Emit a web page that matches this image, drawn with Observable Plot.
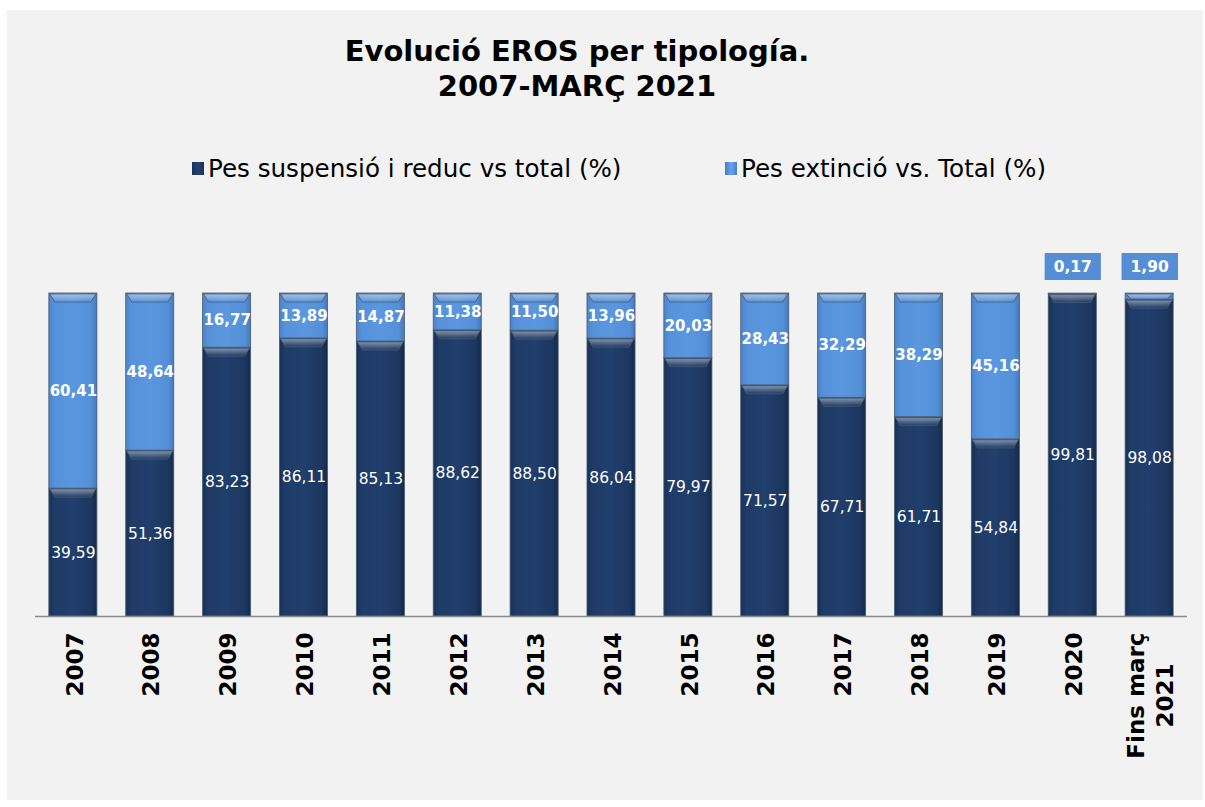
<!DOCTYPE html>
<html><head><meta charset="utf-8">
<script src="https://cdn.jsdelivr.net/npm/d3@7"></script>
<script src="https://cdn.jsdelivr.net/npm/@observablehq/plot@0.6"></script>
<style>
body{margin:0;background:#fff;font-family:"DejaVu Sans",Verdana,sans-serif;}
#wrap{position:relative;width:1205px;height:807px;overflow:hidden;}
#panel{position:absolute;left:7px;top:10px;width:1196px;height:790px;background:#f2f2f2;}
#title{position:absolute;left:0;width:1154px;top:34px;text-align:center;font-weight:bold;font-size:29px;line-height:35px;color:#000;}
#legend{position:absolute;top:155px;left:192px;font-size:24.6px;line-height:28px;color:#000;white-space:nowrap;}
#legend .item{position:absolute;top:0;}
#legend .sw{position:absolute;top:7px;left:0;width:12px;height:13px;}
#legend .lab{position:absolute;left:16px;top:0;}
#chart{position:absolute;left:0;top:200px;}
</style></head>
<body>
<div id="wrap">
<div id="panel"></div>
<div id="title">Evolució EROS per tipología.<br>2007-MARÇ 2021</div>
<div id="legend"></div>
<div id="chart"></div>
</div>
<script>
const years = ["2007","2008","2009","2010","2011","2012","2013","2014","2015","2016","2017","2018","2019","2020","Fins març\n2021"];
const suspensio = [39.59,51.36,83.23,86.11,85.13,88.62,88.50,86.04,79.97,71.57,67.71,61.71,54.84,99.81,98.08];
const extincio = [60.41,48.64,16.77,13.89,14.87,11.38,11.50,13.96,20.03,28.43,32.29,38.29,45.16,0.17,1.90];
const seriesNames = ["Pes suspensió i reduc vs total (%)","Pes extinció vs. Total (%)"];
const seriesColors = ["#1f3864","#558ed5"];

const fmt = v => d3.format(".2f")(v).replace(".", ",");
const rows = years.flatMap((y, i) => [
  {year: y, series: seriesNames[0], value: suspensio[i]},
  {year: y, series: seriesNames[1], value: extincio[i]}
]);

// legend
const legend = document.getElementById("legend");
const legendX = [0, 533];
seriesNames.forEach((s, i) => {
  const it = document.createElement("div");
  it.className = "item";
  it.style.left = legendX[i] + "px";
  it.innerHTML = `<div class="sw" style="background:linear-gradient(90deg, ${d3.color(seriesColors[i]).darker(0.4)}, ${d3.color(seriesColors[i]).brighter(0.4)}, ${d3.color(seriesColors[i]).darker(0.3)})"></div><span class="lab">${s}</span>`;
  legend.appendChild(it);
});

const chart = Plot.plot({
  width: 1205, height: 600,
  marginLeft: 35, marginRight: 18, marginTop: 93, marginBottom: 184,
  style: {background: "transparent", fontFamily: "DejaVu Sans, Verdana, sans-serif", overflow: "visible"},
  x: {domain: years, paddingInner: 0.375, paddingOuter: 0.18, round: false, label: null},
  y: {domain: [0, 100], axis: null},
  color: {domain: seriesNames, range: ["url(#gDark)", "url(#gLight)"]},
  marks: [
    Plot.barY(rows, {x: "year", y: "value", fill: "series", stroke: "#4a5a70", strokeWidth: 0.8, className: "bars"}),
    Plot.ruleY([0], {stroke: "#8c8c8c", strokeWidth: 1.5}),
    Plot.text(rows, Plot.stackY({x: "year", y: "value", z: "series",
      text: d => d.series === seriesNames[0] ? fmt(d.value) : null,
      fill: "white", fontSize: 15.5})),
    Plot.text(rows, Plot.stackY({x: "year", y: "value", z: "series",
      text: d => d.series === seriesNames[1] && d.value >= 5 ? fmt(d.value) : null,
      fill: "white", fontSize: 15, fontWeight: "bold"})),
    Plot.text(rows.filter(d => d.series === seriesNames[1] && d.value < 5), {
      x: "year", frameAnchor: "top", dy: -33, text: d => fmt(d.value),
      fill: "white", fontSize: 15.5, fontWeight: "bold", className: "boxlbl"}),
    Plot.axisX({tickSize: 0, tickPadding: 16, tickRotate: -90, fontSize: 23, fontWeight: "bold",
      lineHeight: 1.25, label: null, className: "xaxis", fill: "#000"})
  ]
});
document.getElementById("chart").appendChild(chart);

// gradients
const svg = d3.select(chart);
const defs = svg.insert("defs", ":first-child");
function hgrad(id, stops) {
  const g = defs.append("linearGradient").attr("id", id).attr("x1", 0).attr("x2", 1).attr("y1", 0).attr("y2", 0);
  stops.forEach(([o, c]) => g.append("stop").attr("offset", o).attr("stop-color", c));
}
hgrad("gDark", [[0, "#183259"], [0.12, "#1f3b66"], [0.5, "#213f6c"], [0.88, "#1c3760"], [1, "#142a4c"]]);
hgrad("gLight", [[0, "#4a83cb"], [0.12, "#5692da"], [0.5, "#5b97de"], [0.88, "#5490d8"], [1, "#4579bd"]]);
const cap = defs.append("linearGradient").attr("id", "gCap").attr("x1", 0).attr("x2", 0).attr("y1", 0).attr("y2", 1);
cap.append("stop").attr("offset", 0).attr("stop-color", "#ffffff").attr("stop-opacity", 0.45);
cap.append("stop").attr("offset", 1).attr("stop-color", "#ffffff").attr("stop-opacity", 0);

// bevel caps on bars
svg.selectAll("g.bars rect").each(function() {
  const r = d3.select(this);
  const x = +r.attr("x"), y = +r.attr("y"), w = +r.attr("width"), h = +r.attr("height");
  const ch = Math.min(9, h);
  d3.select(this.parentNode).append("path")
    .attr("d", `M${x + 1},${y + 1}H${x + w - 1}L${x + w - 6},${y + ch}H${x + 6}Z`)
    .attr("fill", "url(#gCap)");
});

// boxed labels
svg.selectAll("g.boxlbl text").each(function() {
  const b = this.getBBox();
  const padX = 9, padY = 4.5;
  d3.select(this.parentNode).insert("rect", () => this)
    .attr("x", b.x - padX).attr("y", b.y - padY)
    .attr("width", b.width + 2 * padX).attr("height", b.height + 2 * padY)
    .attr("fill", "#558ed5")
    .attr("transform", this.getAttribute("transform"));
});

// center multi-line tick labels
svg.selectAll("g.xaxis text").each(function() {
  const tsp = this.querySelectorAll("tspan");
  if (tsp.length > 1) {
    let m = 0;
    tsp.forEach(t => m = Math.max(m, t.getComputedTextLength()));
    this.setAttribute("text-anchor", "middle");
    tsp.forEach(t => t.setAttribute("x", -m / 2));
  }
});
</script>
</body></html>
